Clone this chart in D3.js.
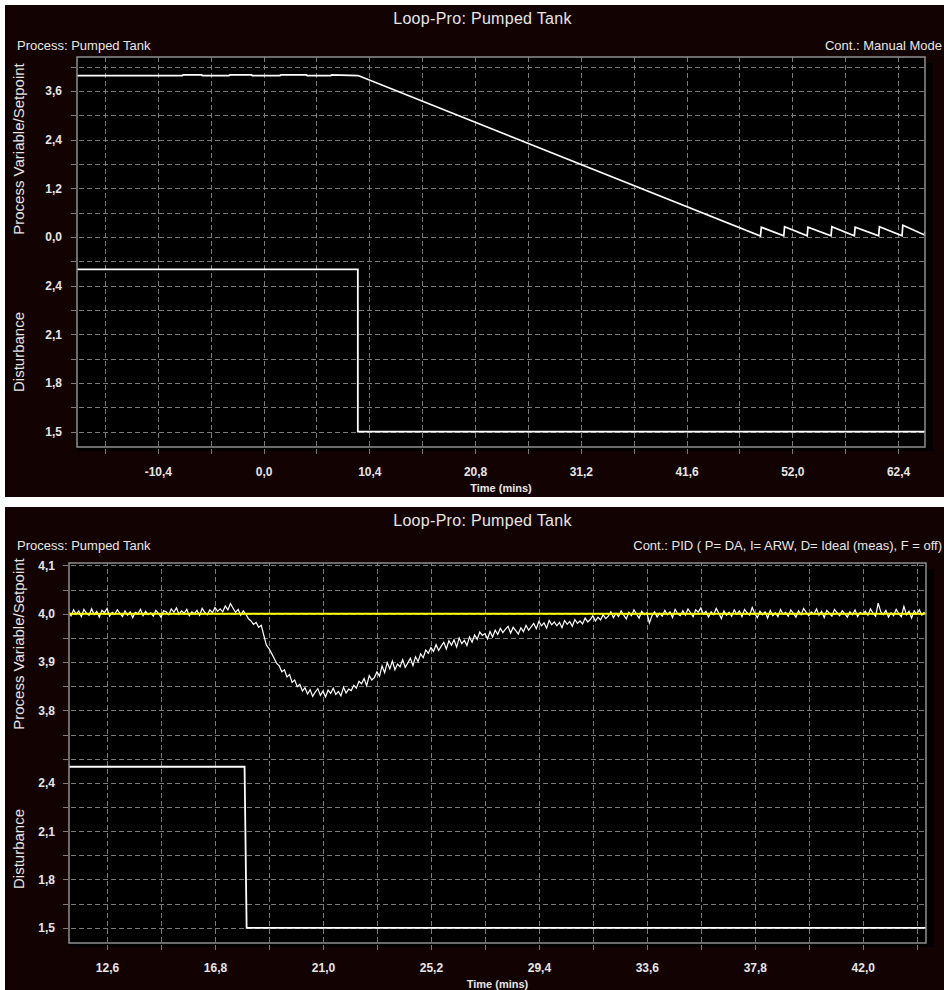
<!DOCTYPE html>
<html><head><meta charset="utf-8">
<script src="https://cdn.jsdelivr.net/npm/d3@7/dist/d3.min.js"></script>
<style>
body{margin:0;background:#fff;}
svg{display:block;}
text{font-family:"Liberation Sans",Arial,sans-serif;}
</style></head><body>
<svg id="c" width="944" height="990"></svg>
<script>
// ---------------- DATA ----------------
const chartTitle = "Loop-Pro:  Pumped Tank";
const processLabel = "Process: Pumped Tank";
const topControllerLabel = "Cont.: Manual Mode";
const botControllerLabel = "Cont.: PID ( P= DA, I= ARW, D= Ideal (meas), F = off)";
const pvAxisTitle = "Process Variable/Setpoint";
const distAxisTitle = "Disturbance";
const timeAxisTitle = "Time (mins)";

// top chart (manual mode)
const topTimeTicks = [-10.4, 0.0, 10.4, 20.8, 31.2, 41.6, 52.0, 62.4];
const topPvTicks = [0.0, 1.2, 2.4, 3.6];
const topDistTicks = [1.5, 1.8, 2.1, 2.4];
const topPvTime  = [-18.35, -8.0, -7.9, -6.1, -6.0, -3.4, -3.3, -1.2, -1.1, 1.6, 1.7, 4.2, 4.3, 6.6, 6.7, 9.3,
                    48.87, 48.95, 51.16, 51.24, 53.46, 53.54, 55.81, 55.89, 58.10, 58.18, 60.49, 60.57, 62.79, 62.87, 65.0, 65.05];
const topPvValue = [3.98, 3.98, 3.995, 3.995, 3.98, 3.98, 3.995, 3.995, 3.98, 3.98, 3.995, 3.995, 3.98, 3.98, 3.995, 3.98,
                    0.02, 0.24, 0.03, 0.25, 0.03, 0.24, 0.03, 0.25, 0.03, 0.24, 0.03, 0.25, 0.03, 0.29, 0.05, 0.13];
const topDistTime  = [-18.35, 9.27, 9.27, 65.05];
const topDistValue = [2.5, 2.5, 1.5, 1.5];

// bottom chart (PID control)
const botTimeTicks = [12.6, 16.8, 21.0, 25.2, 29.4, 33.6, 37.8, 42.0];
const botPvTicks = [3.8, 3.9, 4.0, 4.1];
const botDistTicks = [1.5, 1.8, 2.1, 2.4];
const botPvStart = 11.1, botPvStep = 0.1;   // sample time of first value, sample interval (min)
const botPvValue = [
  4.004, 3.996, 4.008, 3.999, 4.006, 3.994, 4.009, 4.001, 3.997, 4.010,
  3.998, 4.005, 3.993, 4.007, 4.002, 4.011, 3.995, 4.003, 3.999, 4.008,
  4.001, 3.994, 4.006, 3.997, 4.004, 3.992, 4.003, 4.000, 4.009, 3.996,
  4.005, 3.998, 4.002, 3.995, 4.007, 4.001, 3.993, 4.006, 4.004, 3.998,
  4.010, 4.003, 4.012, 3.999, 4.006, 4.001, 4.009, 3.996, 4.004, 4.000,
  4.007, 3.997, 4.011, 4.003, 3.998, 4.008, 4.002, 4.013, 4.005, 4.010,
  4.004, 4.016, 4.008, 4.021, 4.012, 4.003, 4.009, 3.997, 4.006, 3.999,
  3.990, 3.985, 3.978, 3.982, 3.972, 3.976, 3.955, 3.935, 3.928, 3.918,
  3.908, 3.897, 3.892, 3.880, 3.884, 3.869, 3.874, 3.858, 3.863, 3.849,
  3.854, 3.840, 3.847, 3.834, 3.843, 3.829, 3.838, 3.845, 3.831, 3.840,
  3.828, 3.842, 3.835, 3.846, 3.833, 3.839, 3.830, 3.848, 3.836, 3.844,
  3.841, 3.852, 3.846, 3.860, 3.855, 3.866, 3.851, 3.872, 3.863, 3.868,
  3.880, 3.871, 3.892, 3.878, 3.899, 3.886, 3.902, 3.884, 3.896, 3.890,
  3.905, 3.889, 3.898, 3.908, 3.893, 3.911, 3.901, 3.917, 3.909, 3.925,
  3.918, 3.930, 3.922, 3.936, 3.924, 3.933, 3.941, 3.927, 3.944, 3.935,
  3.946, 3.931, 3.950, 3.938, 3.945, 3.934, 3.952, 3.941, 3.956, 3.947,
  3.962, 3.955, 3.959, 3.948, 3.963, 3.952, 3.966, 3.957, 3.970, 3.961,
  3.968, 3.974, 3.960, 3.972, 3.965, 3.958, 3.971, 3.963, 3.976, 3.966,
  3.973, 3.980, 3.969, 3.984, 3.975, 3.981, 3.970, 3.986, 3.977, 3.983,
  3.975, 3.982, 3.971, 3.986, 3.978, 3.984, 3.974, 3.988, 3.980, 3.985,
  3.979, 3.991, 3.983, 3.988, 3.996, 3.985, 3.993, 3.987, 3.998, 3.990,
  3.995, 4.004, 3.992, 4.001, 3.994, 4.006, 3.997, 3.989, 4.003, 3.996,
  4.008, 3.999, 3.991, 4.005, 3.998, 4.002, 3.981, 3.996, 4.004, 3.993,
  4.001, 3.995, 4.007, 3.998, 4.004, 3.992, 4.009, 4.000, 3.996, 4.006,
  3.997, 4.010, 4.002, 3.994, 4.008, 4.003, 4.012, 3.999, 4.005, 3.993,
  4.004, 3.998, 4.011, 4.001, 3.990, 4.006, 3.997, 4.003, 3.995, 4.008,
  3.999, 4.006, 3.994, 4.009, 4.002, 3.997, 4.013, 4.000, 3.992, 4.005,
  3.998, 4.004, 3.991, 4.007, 3.996, 4.002, 3.994, 4.009, 3.999, 4.003,
  3.995, 4.008, 4.001, 3.993, 4.006, 3.998, 4.011, 4.003, 3.996, 4.004,
  3.999, 4.010, 3.997, 4.005, 3.992, 4.007, 4.001, 3.995, 4.009, 4.002,
  3.996, 4.006, 4.000, 3.993, 4.004, 3.998, 4.008, 3.994, 4.003, 3.999,
  4.005, 3.997, 4.010, 4.001, 3.995, 4.022, 4.004, 3.998, 4.007, 3.993,
  4.002, 3.996, 4.009, 4.000, 3.994, 4.015, 3.998, 4.005, 3.991, 4.006,
  3.999, 4.008, 3.997, 4.004
];
const botSetpointTime  = [11.12, 44.46];
const botSetpointValue = [4.0, 4.0];
const botDistTime  = [11.12, 17.95, 18.03, 44.46];
const botDistValue = [2.5, 2.5, 1.5, 1.5];

// ---------------- LAYOUT ----------------
const panels = [
  {
    box: [5, 5, 944, 497], titleY: 24, subY: 50, cont: topControllerLabel,
    plot: {l: 77, t: 57, r: 925, b: 447, mid: 261.3},
    xDomain: [-18.35, 65.05], pvDomain: [-0.6, 4.438], distDomain: [1.405, 2.55],
    xTicks: topTimeTicks, pvTicks: topPvTicks, distTicks: topDistTicks,
    xGrid: d3.range(-3, 13).map(i => i * 5.2),
    pvGrid: d3.range(-1, 8).map(i => i * 0.6),
    distGrid: d3.range(0, 8).map(i => 1.5 + i * 0.15),
    pv: topPvTime.map((t, i) => ({t, v: topPvValue[i]})),
    sp: null, pvWidth: 1.7,
    dist: topDistTime.map((t, i) => ({t, v: topDistValue[i]})),
    pvTitleY: 149, distTitleY: 352, labelPad: 15
  },
  {
    box: [5, 507, 944, 990], titleY: 526, subY: 550, cont: botControllerLabel,
    plot: {l: 69, t: 563, r: 926, b: 943, mid: 758.7},
    xDomain: [11.12, 44.46], pvDomain: [3.7, 4.105], distDomain: [1.4056, 2.55],
    xTicks: botTimeTicks, pvTicks: botPvTicks, distTicks: botDistTicks,
    xGrid: d3.range(0, 16).map(i => 12.6 + i * 2.1),
    pvGrid: d3.range(0, 9).map(i => 3.7 + i * 0.05),
    distGrid: d3.range(0, 8).map(i => 1.5 + i * 0.15),
    pv: botPvValue.map((v, i) => ({t: botPvStart + i * botPvStep, v})),
    sp: botSetpointTime.map((t, i) => ({t, v: botSetpointValue[i]})), pvWidth: 1.2,
    dist: botDistTime.map((t, i) => ({t, v: botDistValue[i]})),
    pvTitleY: 644, distTitleY: 849, labelPad: 14
  }
];

const fmt = d => d.toFixed(1).replace('.', ',');
const svg = d3.select('#c');
const TXT = '#e6e6e6';

panels.forEach((cfg, pi) => {
  const g = svg.append('g');
  const [bx0, by0, bx1, by1] = cfg.box;
  g.append('rect').attr('x', bx0).attr('y', by0).attr('width', bx1 - bx0).attr('height', by1 - by0).attr('fill', '#130202');
  const P = cfg.plot;
  const x = d3.scaleLinear().domain(cfg.xDomain).range([P.l, P.r]);
  const yPv = d3.scaleLinear().domain(cfg.pvDomain).range([P.mid, P.t]);
  const yDist = d3.scaleLinear().domain(cfg.distDomain).range([P.b, P.mid]);

  // shadow + plot background
  g.append('rect').attr('x', P.l).attr('y', P.t + 6).attr('width', P.r - P.l + 8).attr('height', P.b - P.t - 2).attr('fill', '#000');
  g.append('rect').attr('x', P.l).attr('y', P.t).attr('width', P.r - P.l).attr('height', P.b - P.t).attr('fill', '#000');

  const gridStyle = sel => {
    sel.select('.domain').remove();
    sel.selectAll('line').attr('stroke', '#7a7a7a').attr('stroke-width', 1)
      .attr('stroke-dasharray', '5,3').attr('shape-rendering', 'crispEdges');
  };
  // horizontal gridlines
  g.append('g').attr('transform', `translate(${P.l - 6},0)`)
    .call(d3.axisLeft(yPv).tickValues(cfg.pvGrid).tickSize(-(P.r - P.l + 6)).tickFormat(''))
    .call(gridStyle);
  g.append('g').attr('transform', `translate(${P.l - 6},0)`)
    .call(d3.axisLeft(yDist).tickValues(cfg.distGrid).tickSize(-(P.r - P.l + 6)).tickFormat(''))
    .call(gridStyle);
  // vertical gridlines
  g.append('g').attr('transform', `translate(0,${P.b + 7})`)
    .call(d3.axisBottom(x).tickValues(cfg.xGrid).tickSize(-(P.b + 7 - P.t)).tickFormat(''))
    .call(gridStyle);

  // tick labels
  const labStyle = sel => {
    sel.select('.domain').remove();
    sel.selectAll('line').remove();
    sel.selectAll('text').attr('fill', TXT).style('font-family', '"Liberation Sans", Arial, sans-serif')
      .style('font-size', '12px').style('font-weight', 'bold');
  };
  g.append('g').attr('transform', `translate(${P.l},0)`)
    .call(d3.axisLeft(yPv).tickValues(cfg.pvTicks).tickSize(0).tickPadding(cfg.labelPad).tickFormat(fmt))
    .call(labStyle);
  g.append('g').attr('transform', `translate(${P.l},0)`)
    .call(d3.axisLeft(yDist).tickValues(cfg.distTicks).tickSize(0).tickPadding(cfg.labelPad).tickFormat(fmt))
    .call(labStyle);
  g.append('g').attr('transform', `translate(0,${P.b})`)
    .call(d3.axisBottom(x).tickValues(cfg.xTicks).tickSize(0).tickPadding(20).tickFormat(fmt))
    .call(labStyle);

  // clip
  const cid = 'clip' + pi;
  svg.append('clipPath').attr('id', cid).append('rect')
    .attr('x', P.l).attr('y', P.t).attr('width', P.r - P.l).attr('height', P.b - P.t);
  const lines = g.append('g').attr('clip-path', `url(#${cid})`);
  const linePv = d3.line().x(d => x(d.t)).y(d => yPv(d.v));
  const lineDist = d3.line().x(d => x(d.t)).y(d => yDist(d.v));
  lines.append('path').datum(cfg.pv).attr('d', linePv).attr('fill', 'none')
    .attr('stroke', '#ffffff').attr('stroke-width', cfg.pvWidth).attr('stroke-linejoin', 'miter');
  if (cfg.sp) {
    lines.append('path').datum(cfg.sp).attr('d', linePv).attr('fill', 'none')
      .attr('stroke', '#ffff00').attr('stroke-width', 1.8);
  }
  lines.append('path').datum(cfg.dist).attr('d', lineDist).attr('fill', 'none')
    .attr('stroke', '#ffffff').attr('stroke-width', 1.8);

  // border
  g.append('rect').attr('x', P.l).attr('y', P.t).attr('width', P.r - P.l).attr('height', P.b - P.t)
    .attr('fill', 'none').attr('stroke', '#8f8f8f').attr('stroke-width', 1.5);

  // texts
  g.append('text').attr('x', (bx0 + bx1) / 2 + 8).attr('y', cfg.titleY).attr('text-anchor', 'middle')
    .attr('fill', TXT).style('font-size', '16px').style('letter-spacing', '0.3px').text(chartTitle);
  g.append('text').attr('x', 17).attr('y', cfg.subY).attr('fill', TXT).style('font-size', '13px').text(processLabel);
  g.append('text').attr('x', 942).attr('y', cfg.subY).attr('text-anchor', 'end').attr('fill', TXT)
    .style('font-size', '13px').text(cfg.cont);
  g.append('text').attr('transform', `translate(24,${cfg.pvTitleY}) rotate(-90)`).attr('text-anchor', 'middle')
    .attr('fill', TXT).style('font-size', '15px').text(pvAxisTitle);
  g.append('text').attr('transform', `translate(24,${cfg.distTitleY}) rotate(-90)`).attr('text-anchor', 'middle')
    .attr('fill', TXT).style('font-size', '15px').text(distAxisTitle);
  g.append('text').attr('x', (P.l + P.r) / 2).attr('y', P.b + 45).attr('text-anchor', 'middle')
    .attr('fill', TXT).style('font-size', '11px').style('font-weight', 'bold').text(timeAxisTitle);
});
</script>
</body></html>
